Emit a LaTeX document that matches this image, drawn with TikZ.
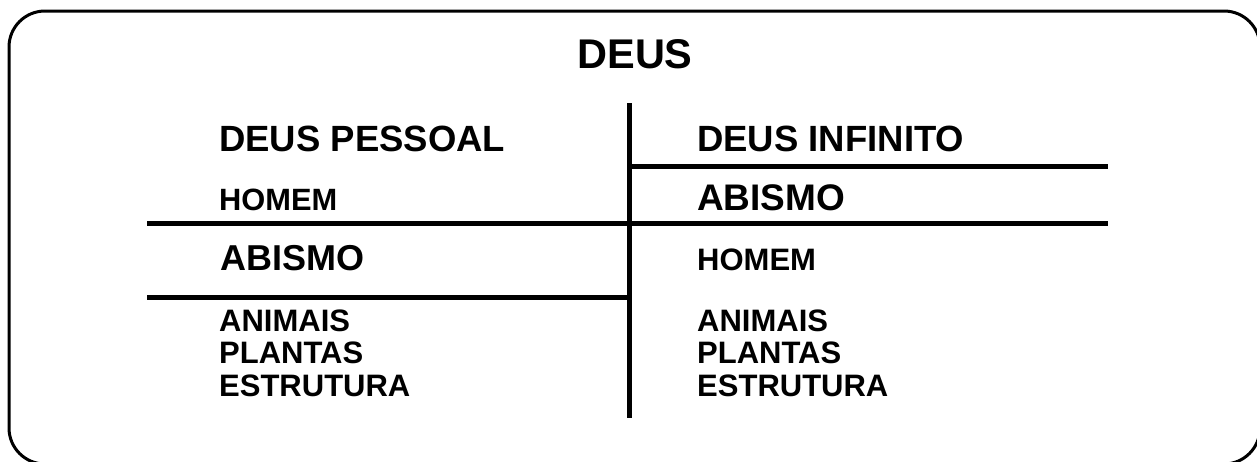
\documentclass[tikz,border=0pt]{standalone}
\usepackage{fontspec}
\setmainfont{Liberation Sans}
\tikzset{
  lbl/.style={anchor=base west, inner sep=0pt, font=\bfseries\fontsize{#1}{#1}\selectfont},
  rule/.style={line width=5pt},
  frame/.style={line width=3pt, rounded corners=36pt}
}
\begin{document}
\begin{tikzpicture}[x=1pt,y=-1pt]
\useasboundingbox (0,0) rectangle (1257,461);
\clip (0,0) rectangle (1257,461);
\draw[frame] (9,11) rectangle (1260,464);
\node[anchor=base, inner sep=0pt, font=\bfseries\fontsize{41.5}{41.5}\selectfont] (deus) at (635,68) {DEUS};
% left column
\node[lbl=36.5] (dp) at (219,151.5) {DEUS PESSOAL};
\node[lbl=30.8] (h1) at (219,210.5) {HOMEM};
\node[lbl=36] (a1) at (220,270) {ABISMO};
\node[lbl=31] (an1) at (219,331.5) {ANIMAIS};
\node[lbl=31] (pl1) at (219,363.5) {PLANTAS};
\node[lbl=31] (es1) at (219,396.5) {ESTRUTURA};
% right column
\node[lbl=36.5] (di) at (697,151) {DEUS INFINITO};
\node[lbl=37] (a2) at (697,210) {ABISMO};
\node[lbl=31] (h2) at (697,270) {HOMEM};
\node[lbl=31] (an2) at (697,331.5) {ANIMAIS};
\node[lbl=31] (pl2) at (697,363.5) {PLANTAS};
\node[lbl=31] (es2) at (697,396.5) {ESTRUTURA};
% rules
\coordinate (vt) at (629,103);
\coordinate (vb) at (629,418);
\coordinate (l1) at (147,223.5);
\coordinate (r1) at (1108,223.5);
\coordinate (l2) at (629,166);
\coordinate (r2) at (1108,166);
\coordinate (l3) at (147,297);
\coordinate (r3) at (629,297);
\draw[rule] (vt) -- (vb);
\draw[rule] (l1) -- (r1);
\draw[rule] (l2) -- (r2);
\draw[rule] (l3) -- (r3);
\end{tikzpicture}
\end{document}
